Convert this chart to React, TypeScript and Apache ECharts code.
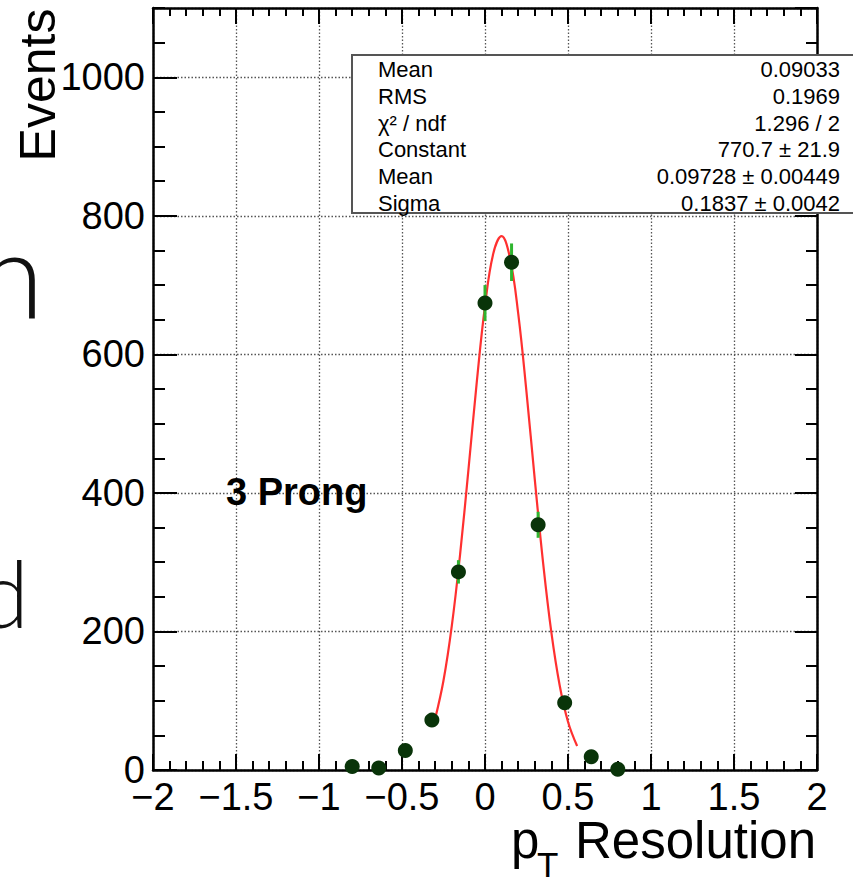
import React, { useEffect, useRef } from 'react';
import * as echarts from 'echarts';

// Histogram bins (bin width 0.16)
const binCenters = [-0.8, -0.64, -0.48, -0.32, -0.16, 0, 0.16, 0.32, 0.48, 0.64, 0.8];
const binCounts = [5, 3, 28, 72, 286, 674, 733, 354, 97, 19, 1];
const binErrors = [2.2, 1.7, 5.3, 8.5, 16.9, 26, 27.1, 18.8, 9.8, 4.4, 1];

// Gaussian fit curve
const fitX = [-0.3, -0.25, -0.2, -0.15, -0.1, -0.05, 0, 0.05, 0.1, 0.15, 0.2, 0.25, 0.3, 0.35, 0.4, 0.45, 0.5, 0.555];
const fitY = [74.3, 129.1, 208.0, 311.4, 432.9, 558.8, 669.9, 745.6, 770.6, 739.6, 659.2, 545.5, 419.3, 299.1, 198.2, 122.0, 69.7, 34.6];

// Stats box
const statNames = ['Mean', 'RMS', 'χ² / ndf', 'Constant', 'Mean', 'Sigma'];
const statValues = ['0.09033', '0.1969', '1.296 / 2', '770.7 ± 21.9', '0.09728 ± 0.00449', '0.1837 ± 0.0042'];

const xMin = -2;
const xMax = 2;
const xStep = 0.5;
const yMin = 0;
const yMax = 1100;
const yStep = 200;
const yMinorStep = 50;

const FONT = '"Liberation Sans", Arial, Helvetica, sans-serif';

export default function App() {
  const ref = useRef<HTMLDivElement>(null);
  useEffect(() => {
    if (!ref.current) return;
    const chart = echarts.init(ref.current, null, { renderer: 'svg' });

    const scatterData = binCenters.map((x, i) => [x, binCounts[i]]);
    const errData = binCenters.map((x, i) => [x, Math.max(0, binCounts[i] - binErrors[i]), binCounts[i] + binErrors[i]]);
    const fitData = fitX.map((x, i) => [x, fitY[i]]);

    const black = { color: '#000', width: 2 };
    const grid = { show: true, lineStyle: { type: [1.5, 2], color: '#555', width: 1.3 } };
    const xFmt = (v: number) => (v === 0 ? '0' : String(v).replace('-', '\u2212'));
    const yFmt = (v: number) => String(v);

    const statTexts: any[] = [];
    statNames.forEach((n, i) => {
      const y = 69.5 + i * 26.8;
      statTexts.push({
        type: 'text', x: 378, y, z: 101,
        style: { text: n, fontFamily: FONT, fontSize: 22, fill: '#000', align: 'left', verticalAlign: 'middle' },
      });
      statTexts.push({
        type: 'text', x: 840, y, z: 101,
        style: { text: statValues[i], fontFamily: FONT, fontSize: 22, fill: '#000', align: 'right', verticalAlign: 'middle' },
      });
    });

    const noLine = { show: false, onZero: false };

    const option: any = {
      animation: false,
      backgroundColor: '#fff',
      grid: { left: 153, top: 8, right: 36, bottom: 114, containLabel: false },
      xAxis: [
        {
          type: 'value', min: xMin, max: xMax, interval: xStep, position: 'bottom',
          axisLine: { show: true, onZero: false, lineStyle: { color: '#000', width: 2.5 } },
          axisTick: { show: true, inside: true, length: 16, lineStyle: black },
          minorTick: { show: true, splitNumber: 5, length: 9, lineStyle: black },
          axisLabel: { fontFamily: FONT, fontSize: 38, color: '#000', margin: 8, formatter: xFmt, showMinLabel: true, showMaxLabel: true },
          splitLine: grid,
        },
        {
          type: 'value', min: xMin, max: xMax, interval: xStep, position: 'top',
          axisLine: { show: true, onZero: false, lineStyle: { color: '#000', width: 2.5 } },
          axisTick: { show: true, inside: true, length: 16, lineStyle: black },
          minorTick: { show: true, splitNumber: 5, length: 8, lineStyle: black },
          axisLabel: { show: false },
          splitLine: { show: false },
        },
      ],
      yAxis: [
        {
          type: 'value', min: yMin, max: yMax, interval: yStep, position: 'left',
          axisLine: { show: true, onZero: false, lineStyle: { color: '#000', width: 2.5 } },
          axisTick: { show: true, inside: true, length: 24, lineStyle: black },
          axisLabel: { fontFamily: FONT, fontSize: 38, color: '#000', margin: 8, showMaxLabel: false, formatter: yFmt },
          splitLine: grid,
        },
        {
          type: 'value', min: yMin, max: yMax, interval: yMinorStep, position: 'left',
          axisLine: noLine,
          axisTick: { show: true, inside: true, length: 12, lineStyle: black },
          axisLabel: { show: false },
          splitLine: { show: false },
        },
        {
          type: 'value', min: yMin, max: yMax, interval: yStep, position: 'right',
          axisLine: { show: true, onZero: false, lineStyle: { color: '#000', width: 2.5 } },
          axisTick: { show: true, inside: true, length: 22, lineStyle: black },
          axisLabel: { show: false },
          splitLine: { show: false },
        },
        {
          type: 'value', min: yMin, max: yMax, interval: yMinorStep, position: 'right',
          axisLine: noLine,
          axisTick: { show: true, inside: true, length: 11, lineStyle: black },
          axisLabel: { show: false },
          splitLine: { show: false },
        },
      ],
      series: [
        {
          type: 'line',
          xAxisIndex: 0, yAxisIndex: 0,
          data: fitData,
          smooth: 0.4,
          showSymbol: false,
          symbol: 'none',
          lineStyle: { color: '#ff3030', width: 2.2 },
          z: 2,
        },
        {
          type: 'custom',
          xAxisIndex: 0, yAxisIndex: 0,
          data: errData,
          encode: { x: 0, y: [1, 2] },
          z: 3,
          renderItem: (params: any, api: any) => {
            const x = api.value(0);
            const p1 = api.coord([x, api.value(1)]);
            const p2 = api.coord([x, api.value(2)]);
            return {
              type: 'line',
              shape: { x1: p1[0], y1: p1[1], x2: p2[0], y2: p2[1] },
              style: { stroke: '#2fb52f', lineWidth: 3 },
            };
          },
        },
        {
          type: 'scatter',
          xAxisIndex: 0, yAxisIndex: 0,
          data: scatterData,
          symbol: 'circle',
          symbolSize: 15,
          itemStyle: { color: '#093409', opacity: 1 },
          z: 4,
        },
      ],
      graphic: [
        // background slide letters
        { type: 'text', x: 44, y: 272, z: 1, style: { text: 'n', fontFamily: 'Lato', fontWeight: 300, fontSize: 120, fill: '#111', align: 'right', verticalAlign: 'middle' } },
        { type: 'text', x: 29, y: 592, z: 1, style: { text: 'd', fontFamily: 'Lato', fontWeight: 300, fontSize: 92, fill: '#111', align: 'right', verticalAlign: 'middle' } },
        // stats box
        {
          type: 'rect', z: 100,
          shape: { x: 352, y: 55, width: 520, height: 158 },
          style: { fill: '#fff', stroke: '#555', lineWidth: 2 },
        },
        ...statTexts,
        // annotation
        { type: 'text', x: 226, y: 492, z: 50, style: { text: '3 Prong', fontFamily: FONT, fontWeight: 'bold', fontSize: 38, fill: '#000', align: 'left', verticalAlign: 'middle' } },
        // y axis title
        { type: 'text', x: 38, y: 85, rotation: Math.PI / 2, z: 50, style: { text: 'Events', fontFamily: FONT, fontSize: 50, fill: '#000', align: 'center', verticalAlign: 'middle' } },
        // x axis title
        { type: 'text', x: 511, y: 840, z: 50, style: { text: 'p', fontFamily: FONT, fontSize: 51, fill: '#000', align: 'left', verticalAlign: 'middle' } },
        { type: 'text', x: 537, y: 864, z: 50, style: { text: 'T', fontFamily: FONT, fontSize: 35, fill: '#000', align: 'left', verticalAlign: 'middle' } },
        { type: 'text', x: 816, y: 840, z: 50, style: { text: 'Resolution', fontFamily: FONT, fontSize: 51, fill: '#000', align: 'right', verticalAlign: 'middle' } },
      ],
    };
    chart.setOption(option);
    return () => chart.dispose();
  }, []);

  return (
    <div
      ref={ref}
      style={{ position: 'absolute', left: 0, top: 0, width: 853, height: 884, background: '#fff' }}
    />
  );
}
